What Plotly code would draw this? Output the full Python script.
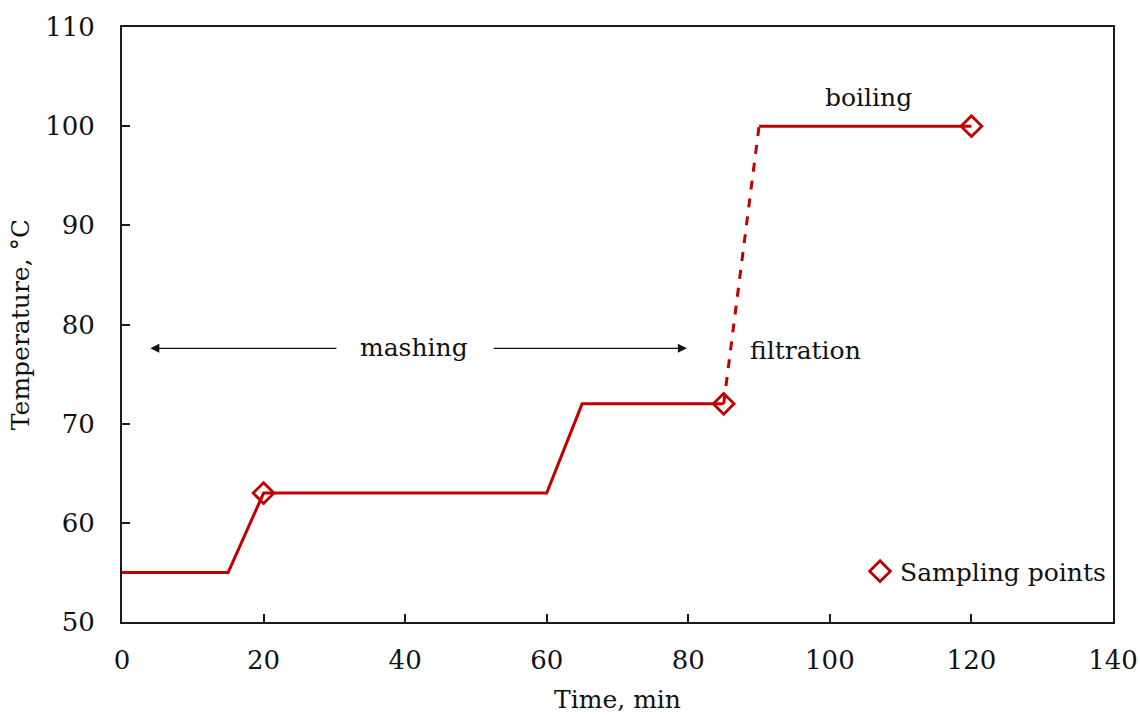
import plotly.graph_objects as go

# Temperature program of the brewing process
time_solid_a = [0, 15, 20, 60, 65, 85]
temp_solid_a = [55, 55, 63, 63, 72, 72]
time_dashed = [85, 90]
temp_dashed = [72, 100]
time_solid_b = [90, 120]
temp_solid_b = [100, 100]
sample_time = [20, 85, 120]
sample_temp = [63, 72, 100]

RED = "#C00000"
FONT = "DejaVu Serif"
INK = "#111"

fig = go.Figure()
fig.add_trace(go.Scatter(x=time_solid_a, y=temp_solid_a, mode="lines",
                         line=dict(color=RED, width=3), showlegend=False))
fig.add_trace(go.Scatter(x=time_dashed, y=temp_dashed, mode="lines",
                         line=dict(color=RED, width=3, dash="dash"), showlegend=False))
fig.add_trace(go.Scatter(x=time_solid_b, y=temp_solid_b, mode="lines",
                         line=dict(color=RED, width=3), showlegend=False))
fig.add_trace(go.Scatter(x=sample_time, y=sample_temp, mode="markers",
                         name="Sampling points",
                         marker=dict(symbol="diamond-open", size=16, color=RED,
                                     line=dict(color=RED, width=2.8))))

axis_common = dict(showgrid=False, zeroline=False, showline=True, linecolor="#1a1a1a",
                   linewidth=2, mirror=True, ticks="inside", ticklen=8, tickwidth=1.5,
                   tickcolor="#1a1a1a", automargin=False,
                   tickfont=dict(family=FONT, size=26, color=INK))

fig.update_xaxes(range=[0, 140], dtick=20, ticklabelstandoff=14,
                 title=dict(text="Time, min", standoff=16,
                            font=dict(family=FONT, size=25, color=INK)), **axis_common)
fig.update_yaxes(range=[50, 110], dtick=10, ticklabelstandoff=20,
                 title=dict(text="Temperature, °C", standoff=8,
                            font=dict(family=FONT, size=25, color=INK)), **axis_common)

# Process stage labels and the mashing span arrows
fig.add_annotation(x=41.2, y=77.7, text="mashing", showarrow=False,
                   font=dict(family=FONT, size=25, color=INK))
fig.add_annotation(x=4.0, y=77.6, ax=30.5, ay=77.6, axref="x", ayref="y",
                   text="", showarrow=True, arrowhead=2, arrowsize=1.5, arrowwidth=1.2,
                   arrowcolor=INK)
fig.add_annotation(x=79.8, y=77.6, ax=52.3, ay=77.6, axref="x", ayref="y",
                   text="", showarrow=True, arrowhead=2, arrowsize=1.5, arrowwidth=1.2,
                   arrowcolor=INK)
fig.add_annotation(x=96.6, y=77.4, text="filtration", showarrow=False,
                   font=dict(family=FONT, size=25, color=INK))
fig.add_annotation(x=105.4, y=102.9, text="boiling", showarrow=False,
                   font=dict(family=FONT, size=25, color=INK))

fig.update_layout(
    width=1140, height=716,
    margin=dict(l=122, r=27, t=27, b=94),
    paper_bgcolor="white", plot_bgcolor="white",
    legend=dict(x=0.998, y=0.085, xanchor="right", yanchor="middle",
                font=dict(family=FONT, size=25, color=INK),
                bgcolor="rgba(0,0,0,0)", itemwidth=30),
)

fig.write_html("out.html")
